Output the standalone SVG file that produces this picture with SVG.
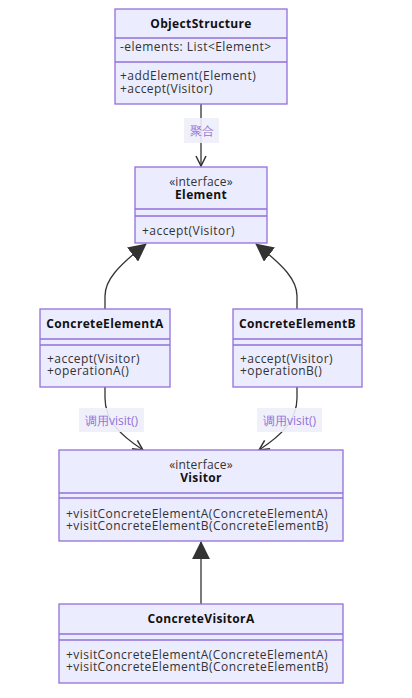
<svg xmlns="http://www.w3.org/2000/svg" width="412" height="698" viewBox="0 0 412 698">
<defs>
<style>
.box{fill:#ECECFF;stroke:#9370DB;stroke-width:1.3}
.div{stroke:#9370DB;stroke-width:1.3}
text{font-family:"Open Sans","Noto Sans","DejaVu Sans",sans-serif;font-size:12px;fill:#333;letter-spacing:0.45px}
.t{font-weight:bold;text-anchor:middle;fill:#111;letter-spacing:0.35px}
.s{text-anchor:middle;letter-spacing:0.2px}
.edge{fill:none;stroke:#333;stroke-width:1.3}
.lbg{fill:#EEEEFA;opacity:0.9}
.lbl{fill:#9370DB;text-anchor:middle;letter-spacing:0}
</style>
<marker id="tri" viewBox="0 0 20 20" refX="19" refY="10" markerWidth="18" markerHeight="18" markerUnits="userSpaceOnUse" orient="auto">
<path d="M0,0 L20,10 L0,20 Z" fill="#333"/>
</marker>
<marker id="open" viewBox="0 0 12 12" refX="11" refY="6" markerWidth="12" markerHeight="12" markerUnits="userSpaceOnUse" orient="auto">
<path d="M1,1 L11,6 L1,11" fill="none" stroke="#333" stroke-width="1.5"/>
</marker>
</defs>

<g id="connectors">
<path class="edge" d="M201,104 L201,166" marker-end="url(#open)"/>
<path class="edge" d="M105,309 L105,296 C105,280 118,266 146,244" marker-end="url(#tri)"/>
<path class="edge" d="M297,309 L297,296 C297,280 284,266 256,244" marker-end="url(#tri)"/>
<path class="edge" d="M105,387 L105,398 C105,420 120,435 143,450" marker-end="url(#open)"/>
<path class="edge" d="M297,387 L297,398 C297,420 282,435 259,450" marker-end="url(#open)"/>
<path class="edge" d="M201,604 L201,542" marker-end="url(#tri)"/>
<rect class="lbg" x="184" y="118" width="35" height="25"/>
<text class="lbl" x="201.5" y="135">聚合</text>
<rect class="lbg" x="79" y="408" width="65" height="24"/>
<text class="lbl" x="111.5" y="425">调用visit()</text>
<rect class="lbg" x="257" y="408" width="65" height="24"/>
<text class="lbl" x="289.5" y="425">调用visit()</text>
</g>

<g id="ObjectStructure">
<rect class="box" x="115" y="9" width="172" height="95"/>
<line class="div" x1="115" y1="38" x2="287" y2="38"/>
<line class="div" x1="115" y1="62" x2="287" y2="62"/>
<text class="t" x="201" y="28">ObjectStructure</text>
<text x="120" y="51">-elements: List&lt;Element&gt;</text>
<text x="120" y="80">+addElement(Element)</text>
<text x="120" y="93">+accept(Visitor)</text>
</g>

<g id="Element">
<rect class="box" x="135" y="167" width="132" height="76"/>
<line class="div" x1="135" y1="209" x2="267" y2="209"/>
<line class="div" x1="135" y1="216" x2="267" y2="216"/>
<text class="s" x="201" y="186">«interface»</text>
<text class="t" x="201" y="199">Element</text>
<text x="142" y="235">+accept(Visitor)</text>
</g>

<g id="ConcreteElementA">
<rect class="box" x="40" y="309" width="130" height="78"/>
<line class="div" x1="40" y1="339" x2="170" y2="339"/>
<line class="div" x1="40" y1="345" x2="170" y2="345"/>
<text class="t" x="105" y="328">ConcreteElementA</text>
<text x="47" y="363">+accept(Visitor)</text>
<text x="47" y="375">+operationA()</text>
</g>

<g id="ConcreteElementB">
<rect class="box" x="233" y="309" width="129" height="78"/>
<line class="div" x1="233" y1="339" x2="362" y2="339"/>
<line class="div" x1="233" y1="345" x2="362" y2="345"/>
<text class="t" x="297.5" y="328">ConcreteElementB</text>
<text x="240" y="363">+accept(Visitor)</text>
<text x="240" y="375">+operationB()</text>
</g>

<g id="Visitor">
<rect class="box" x="59" y="450" width="284" height="91"/>
<line class="div" x1="59" y1="493" x2="343" y2="493"/>
<line class="div" x1="59" y1="498" x2="343" y2="498"/>
<text class="s" x="201" y="469">«interface»</text>
<text class="t" x="201" y="482">Visitor</text>
<text x="66" y="518">+visitConcreteElementA(ConcreteElementA)</text>
<text x="66" y="530">+visitConcreteElementB(ConcreteElementB)</text>
</g>

<g id="ConcreteVisitorA">
<rect class="box" x="59" y="604" width="284" height="79"/>
<line class="div" x1="59" y1="634" x2="343" y2="634"/>
<line class="div" x1="59" y1="640" x2="343" y2="640"/>
<text class="t" x="201" y="623">ConcreteVisitorA</text>
<text x="66" y="659">+visitConcreteElementA(ConcreteElementA)</text>
<text x="66" y="671">+visitConcreteElementB(ConcreteElementB)</text>
</g>
</svg>
